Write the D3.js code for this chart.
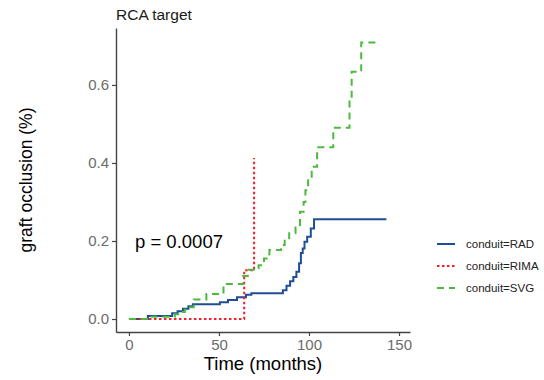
<!DOCTYPE html>
<html>
<head>
<meta charset="utf-8">
<script src="https://cdn.jsdelivr.net/npm/d3@7"></script>
<style>
  body { margin: 0; background: #fff; }
  svg text { font-family: "Liberation Sans", Arial, sans-serif; }
</style>
</head>
<body>
<div id="chart"></div>
<script>
// step curves: [months, occlusion]
var radSteps = [[0,0],[10.5,0.008],[24,0.015],[27,0.02],[30,0.026],[33,0.033],[35.5,0.038],
  [50.5,0.043],[55,0.049],[60,0.056],[65,0.062],[68,0.066],[85.5,0.074],[87.5,0.085],
  [89.5,0.097],[91.3,0.108],[93,0.121],[94.5,0.143],[95.5,0.169],[96.5,0.181],[97.5,0.198],
  [99,0.211],[101,0.232],[102.8,0.256],[143,0.256]];
var rimaSteps = [[0,0],[64,0.125],[69.5,0.413],[69.5,0.413]];
var svgSteps = [[0,0],[12.5,0.006],[25.5,0.012],[28.5,0.018],[31,0.024],[34,0.03],[36,0.05],
  [43,0.064],[52.5,0.09],[63.5,0.11],[66,0.126],[70,0.13],[72,0.138],[75,0.155],[78,0.177],
  [84.5,0.19],[86.5,0.207],[89,0.22],[92.5,0.241],[95,0.275],[97,0.3],[98,0.33],[99.5,0.356],
  [101.5,0.39],[104.5,0.44],[113.5,0.49],[122.5,0.562],[123.7,0.634],[129,0.709],[137,0.709]];

var groups = ["conduit=RAD", "conduit=RIMA", "conduit=SVG"];
var colors = ["#1f4e94", "#f41f2b", "#4cba3f"];
var dashes = [null, "2.5,2.5", "7,5"];
var xTicks = [0, 50, 100, 150];
var yTicks = [0, 0.2, 0.4, 0.6];

var w = 544, h = 380;
var svg = d3.select("#chart").append("svg")
    .attr("width", w)
    .attr("height", h);

var x = d3.scaleLinear().domain([-7.2, 156.1]).range([116, 410]);
var y = d3.scaleLinear().domain([-0.0333, 0.746]).range([332, 28]);

// title
svg.append("text")
    .attr("x", 116)
    .attr("y", 20)
    .attr("font-size", "15.5px")
    .attr("fill", "#1a1a1a")
    .text("RCA target");

var line = d3.line()
    .x(function (d) { return x(d[0]); })
    .y(function (d) { return y(d[1]); })
    .curve(d3.curveStepAfter);

var series = [radSteps, rimaSteps, svgSteps];
series.forEach(function (s, i) {
    svg.append("path")
        .datum(s)
        .attr("d", line)
        .attr("fill", "none")
        .attr("stroke", colors[i])
        .attr("stroke-width", 2)
        .attr("stroke-dasharray", dashes[i]);
});

// axes
var xAxis = d3.axisBottom(x).tickValues(xTicks).tickSize(4).tickSizeOuter(0);
var yAxis = d3.axisLeft(y).tickValues(yTicks).tickSize(4).tickSizeOuter(0)
    .tickFormat(d3.format(".1f"));

var gx = svg.append("g")
    .attr("transform", "translate(0,332)")
    .call(xAxis);
var gy = svg.append("g")
    .attr("transform", "translate(116,0)")
    .call(yAxis);

[gx, gy].forEach(function (g) {
    g.select(".domain").attr("stroke", "#444").attr("stroke-width", 1.4);
    g.selectAll(".tick line").attr("stroke", "#444").attr("stroke-width", 1.2);
    g.selectAll(".tick text")
        .attr("fill", "#6b6b6b")
        .attr("font-size", "15px")
        .attr("font-family", "Liberation Sans, Arial, sans-serif");
});

// axis titles
svg.append("text")
    .attr("x", 263)
    .attr("y", 370)
    .attr("text-anchor", "middle")
    .attr("font-size", "18.5px")
    .attr("fill", "#000")
    .text("Time (months)");

svg.append("text")
    .attr("transform", "translate(32,180) rotate(-90)")
    .attr("text-anchor", "middle")
    .attr("font-size", "17.5px")
    .attr("fill", "#000")
    .text("graft occlusion (%)");

// p value
svg.append("text")
    .attr("x", 135)
    .attr("y", 248)
    .attr("font-size", "18.5px")
    .attr("fill", "#000")
    .text("p = 0.0007");

// legend
var legend = svg.append("g").attr("transform", "translate(437,244)");
groups.forEach(function (g, i) {
    var row = legend.append("g").attr("transform", "translate(0," + (i * 22) + ")");
    row.append("line")
        .attr("x1", 0).attr("x2", 18)
        .attr("y1", 0).attr("y2", 0)
        .attr("stroke", colors[i])
        .attr("stroke-width", 2)
        .attr("stroke-dasharray", dashes[i]);
    row.append("text")
        .attr("x", 29)
        .attr("y", 4)
        .attr("font-size", "11.5px")
        .attr("fill", "#222")
        .text(g);
});
</script>
</body>
</html>
